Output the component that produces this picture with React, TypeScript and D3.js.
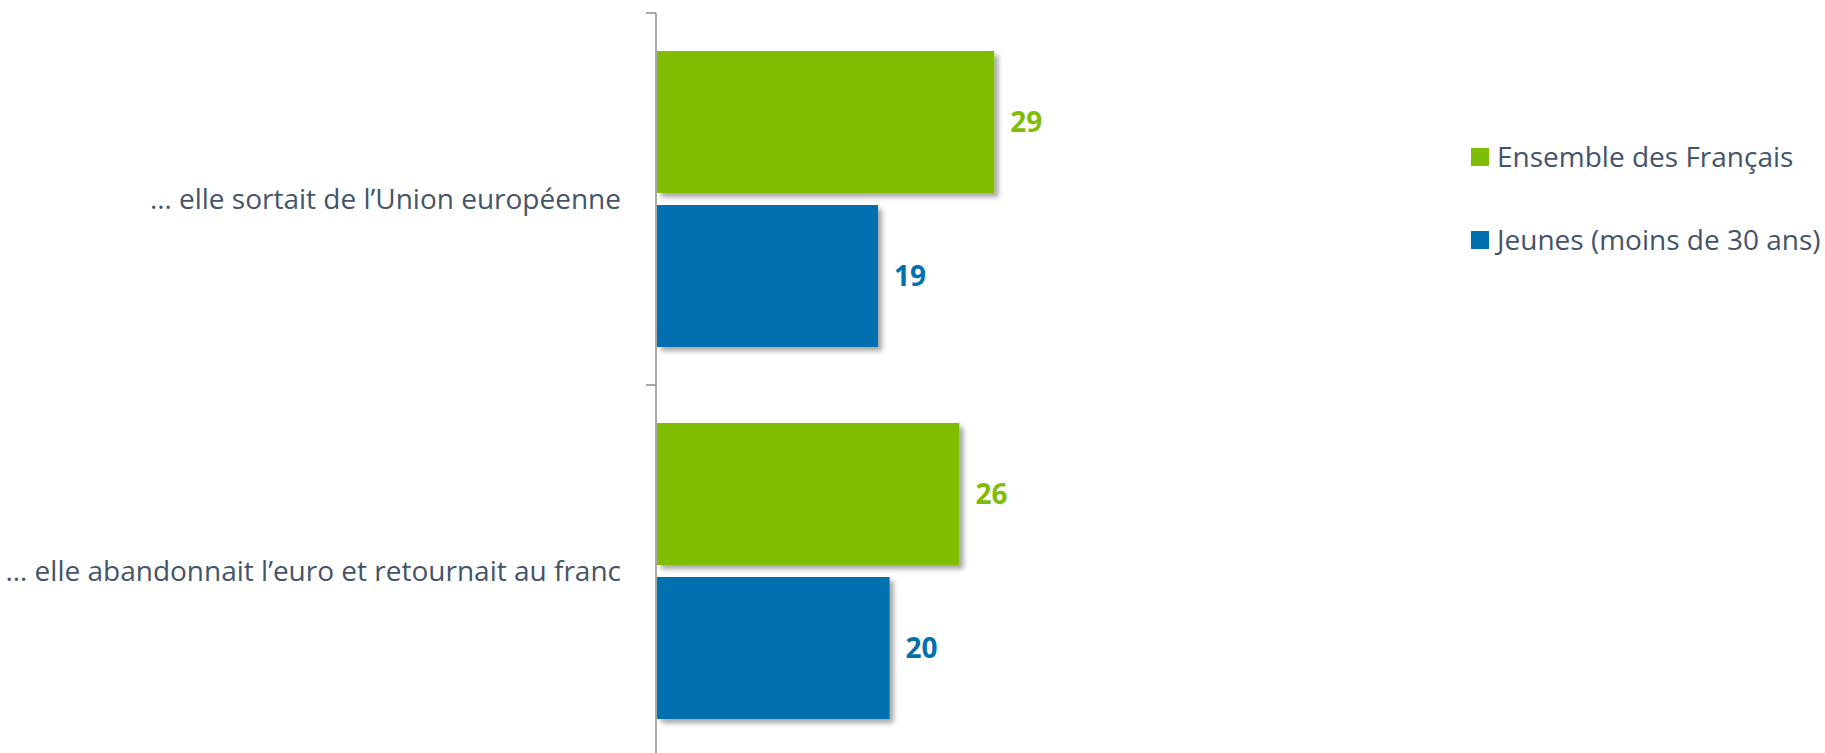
import React, { useEffect, useRef } from "react"
import * as d3 from "d3"

const WIDTH = 1825
const HEIGHT = 753

const categories = [
    "… elle sortait de l’Union européenne",
    "… elle abandonnait l’euro et retournait au franc",
]
const seriesNames = ["Ensemble des Français", "Jeunes (moins de 30 ans)"]
const ensembleValues = [29, 26]
const jeunesValues = [19, 20]
const seriesColors = ["#80BD06", "#0070AE"]

const TEXT_COLOR = "#44546A"
const AXIS_COLOR = "#8C8C8C"
const FONT = "'Open Sans', 'Noto Sans', sans-serif"

const App: React.FC = () => {
    const svgRef = useRef<SVGSVGElement | null>(null)

    useEffect(() => {
        if (!svgRef.current) return
        const svg = d3.select(svgRef.current)
        svg.selectAll("*").remove()

        const axisX = 656
        const top = 13
        const bottom = 757

        // ombre portée des barres
        const defs = svg.append("defs")
        const filter = defs
            .append("filter")
            .attr("id", "shadow")
            .attr("x", "-10%")
            .attr("y", "-10%")
            .attr("width", "130%")
            .attr("height", "130%")
        filter
            .append("feDropShadow")
            .attr("dx", 4)
            .attr("dy", 4)
            .attr("stdDeviation", 2.5)
            .attr("flood-color", "#000")
            .attr("flood-opacity", 0.35)

        const yScale = d3
            .scaleBand<string>()
            .domain(categories)
            .range([top, bottom])
            .padding(0)

        const inner = d3
            .scaleBand<string>()
            .domain(seriesNames)
            .range([0, yScale.bandwidth()])
            .paddingInner(0.078)
            .paddingOuter(0.247)

        const xScale = d3.scaleLinear().domain([0, 100]).range([axisX + 1, axisX + 1164])

        const rows = categories.flatMap((c, i) => [
            { cat: c, series: seriesNames[0], value: ensembleValues[i], color: seriesColors[0] },
            { cat: c, series: seriesNames[1], value: jeunesValues[i], color: seriesColors[1] },
        ])

        // barres
        svg.append("g")
            .selectAll("rect")
            .data(rows)
            .enter()
            .append("rect")
            .attr("x", xScale(0))
            .attr("y", d => yScale(d.cat)! + inner(d.series)!)
            .attr("width", d => xScale(d.value) - xScale(0))
            .attr("height", inner.bandwidth())
            .attr("fill", d => d.color)
            .attr("filter", "url(#shadow)")

        // étiquettes de valeurs
        svg.append("g")
            .selectAll("text")
            .data(rows)
            .enter()
            .append("text")
            .attr("x", d => xScale(d.value) + 16)
            .attr("y", d => yScale(d.cat)! + inner(d.series)! + inner.bandwidth() / 2)
            .attr("dy", "0.36em")
            .attr("fill", d => d.color)
            .style("font-family", FONT)
            .style("font-weight", "bold")
            .style("font-size", "28px")
            .text(d => d.value)

        // axe vertical
        const axis = svg.append("g").attr("stroke", AXIS_COLOR).attr("stroke-width", 1.5)
        axis.append("line")
            .attr("x1", axisX)
            .attr("x2", axisX)
            .attr("y1", top)
            .attr("y2", bottom)
        const tickYs = [...categories.map(c => yScale(c)!), bottom]
        axis.selectAll("line.tick")
            .data(tickYs)
            .enter()
            .append("line")
            .attr("class", "tick")
            .attr("x1", axisX - 10)
            .attr("x2", axisX)
            .attr("y1", d => d)
            .attr("y2", d => d)

        // libellés des catégories
        svg.append("g")
            .selectAll("text")
            .data(categories)
            .enter()
            .append("text")
            .attr("x", 621)
            .attr("y", d => yScale(d)! + yScale.bandwidth() / 2)
            .attr("dy", "0.36em")
            .attr("text-anchor", "end")
            .attr("fill", TEXT_COLOR)
            .style("font-family", FONT)
            .style("font-size", "28px")
            .text(d => d)

        // légende
        const legend = svg
            .append("g")
            .selectAll("g")
            .data(seriesNames)
            .enter()
            .append("g")
            .attr("transform", (_, i) => `translate(1471, ${157 + i * 83})`)
        legend
            .append("rect")
            .attr("x", 0)
            .attr("y", -9)
            .attr("width", 18)
            .attr("height", 18)
            .attr("fill", (_, i) => seriesColors[i])
        legend
            .append("text")
            .attr("x", 26)
            .attr("y", 0)
            .attr("dy", "0.36em")
            .attr("fill", TEXT_COLOR)
            .style("font-family", FONT)
            .style("font-size", "28px")
            .text(d => d)
    }, [])

    return (
        <svg
            ref={svgRef}
            width={WIDTH}
            height={HEIGHT}
            style={{ position: "absolute", left: 0, top: 0, background: "#fff" }}
        />
    )
}

export default App
